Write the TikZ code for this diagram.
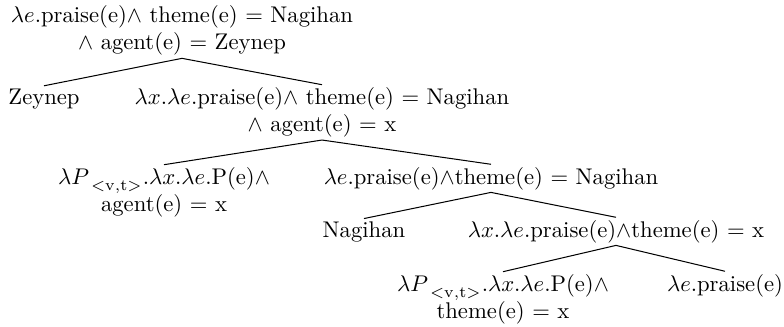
\documentclass[tikz,border=0pt]{standalone}
\begin{document}
\begin{tikzpicture}[x=0.441pt,y=-0.441pt,
  every node/.style={inner sep=1pt, align=center},
  branch/.style={draw, line width=0.45pt}]
\useasboundingbox (0,0) rectangle (784,326);
% root
\node[anchor=north] (root) at (182,3) {\(\lambda e\).praise(e)\(\wedge\) theme(e) \(=\) Nagihan\\ \(\wedge\) agent(e) \(=\) Zeynep};
% level 1
\node[anchor=base] (zey) at (44,104) {Zeynep};
\node[anchor=north] (vp1) at (322,84.7) {\(\lambda x.\lambda e\).praise(e)\(\wedge\) theme(e) \(=\) Nagihan\\ \(\wedge\) agent(e) \(=\) x};
% level 2
\node[anchor=north] (ag) at (164,164.7) {\(\lambda P^{}_{\;<\mathrm{v,t}>}.\lambda x.\lambda e\).P(e)\(\wedge\)\\ agent(e) \(=\) x};
\node[anchor=base] (vp2) at (491,184) {\(\lambda e\).praise(e)\(\wedge\)theme(e) \(=\) Nagihan};
% level 3
\node[anchor=base] (nag) at (364,237) {Nagihan};
\node[anchor=base] (vp3) at (616,237) {\(\lambda x.\lambda e\).praise(e)\(\wedge\)theme(e) \(=\) x};
% level 4
\node[anchor=north] (th) at (503,271.7) {\(\lambda P^{}_{\;<\mathrm{v,t}>}.\lambda x.\lambda e\).P(e)\(\wedge\)\\ theme(e) \(=\) x};
\node[anchor=base] (pr) at (725,291) {\(\lambda e\).praise(e)};
% branches
\draw[branch] (root.south) -- (zey.north);
\draw[branch] (root.south) -- (vp1.north);
\draw[branch] (vp1.south) -- (ag.north);
\draw[branch] (vp1.south) -- (vp2.north);
\draw[branch] (vp2.south) -- (nag.north);
\draw[branch] (vp2.south) -- (vp3.north);
\draw[branch] (vp3.south) -- (th.north);
\draw[branch] (vp3.south) -- (pr.north);
\end{tikzpicture}
\end{document}
